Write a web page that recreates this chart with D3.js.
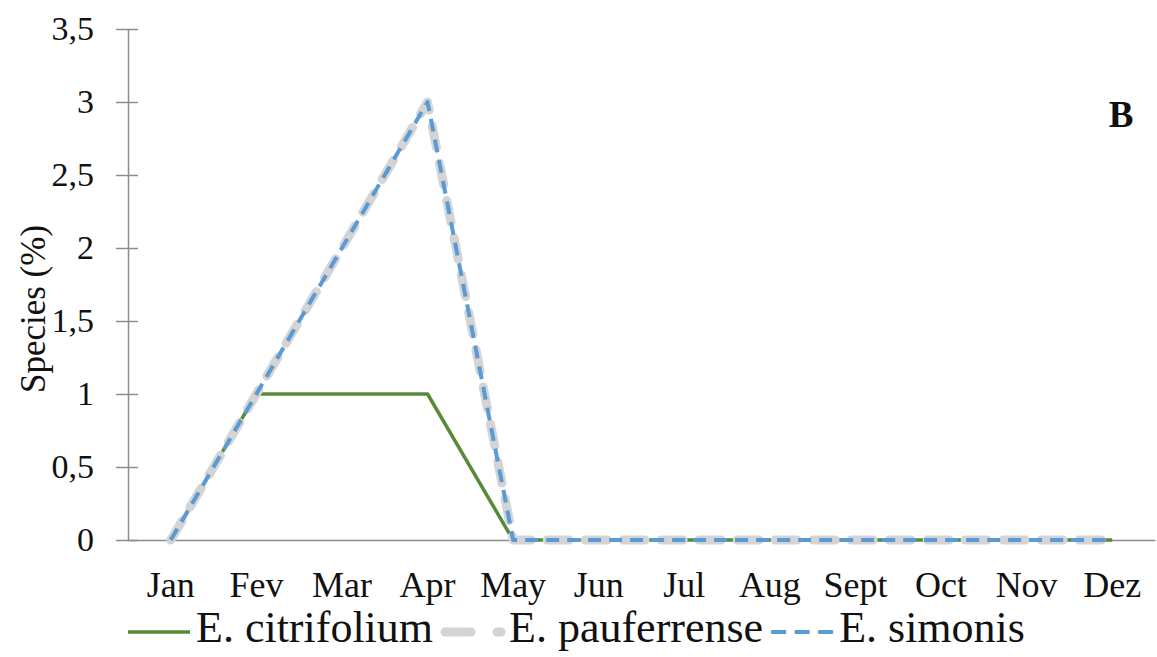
<!DOCTYPE html>
<html>
<head>
<meta charset="utf-8">
<script src="https://cdn.jsdelivr.net/npm/d3@7"></script>
<style>
  html, body { margin: 0; padding: 0; background: #fff; }
  svg { display: block; }
  svg text { font-family: "Times New Roman", "Liberation Serif", Times, "DejaVu Serif", serif !important; fill: #111; }
</style>
</head>
<body>
<svg id="chart" width="1157" height="657"></svg>
<script>
// Monthly share of species (%)
const months = ["Jan", "Fev", "Mar", "Apr", "May", "Jun", "Jul", "Aug", "Sept", "Oct", "Nov", "Dez"];
const citrifolium = [0, 1, 1, 1, 0, 0, 0, 0, 0, 0, 0, 0];
const pauferrense = [0, 1, 2, 3, 0, 0, 0, 0, 0, 0, 0, 0];
const simonis = [0, 1, 2, 3, 0, 0, 0, 0, 0, 0, 0, 0];
const yTicks = [0, 0.5, 1, 1.5, 2, 2.5, 3, 3.5];
const seriesNames = ["E. citrifolium", "E. pauferrense", "E. simonis"];

const svg = d3.select("#chart");
const plotLeft = 128, plotRight = 1155, plotTop = 29, plotBottom = 540;

const x = d3.scaleBand().domain(months).range([plotLeft, plotRight]).paddingInner(0).paddingOuter(0);
const y = d3.scaleLinear().domain([0, 3.5]).range([plotBottom, plotTop]);
const fmt = d => String(d).replace(".", ",");

// y axis: ticks crossing the axis line
const yAxis = svg.append("g")
  .attr("transform", `translate(${plotLeft},0)`)
  .call(d3.axisLeft(y).tickValues(yTicks).tickFormat(fmt).tickSizeInner(12).tickSizeOuter(0).tickPadding(22));
yAxis.attr("font-family", null);
yAxis.select(".domain").attr("stroke", "#8c8c8c").attr("stroke-width", 1.5);
yAxis.selectAll(".tick line").attr("stroke", "#8c8c8c").attr("stroke-width", 1.5).attr("x2", 10).attr("x1", -12);
yAxis.selectAll(".tick text")
  .attr("x", -34)
  .style("font-size", "34px").attr("fill", "#111");

// x axis: baseline only, labels under each month
const xAxis = svg.append("g")
  .attr("transform", `translate(0,${plotBottom})`)
  .call(d3.axisBottom(x).tickSize(0).tickPadding(31));
xAxis.attr("font-family", null);
xAxis.select(".domain").attr("stroke", "#8c8c8c").attr("stroke-width", 1.5);
xAxis.selectAll(".tick text")
  .style("font-size", "36px").attr("fill", "#111");

// y axis title
svg.append("text")
  .attr("transform", `translate(37,${(232 + 386) / 2}) rotate(-90)`)
  .attr("text-anchor", "middle")
  .attr("dominant-baseline", "middle")
  .style("font-size", "35px")
  .text("Species (%)");

// panel letter
svg.append("text")
  .attr("x", 1121).attr("y", 127)
  .attr("text-anchor", "middle")
  .style("font-size", "37px").style("font-weight", "bold")
  .text("B");

const line = d3.line()
  .x((d, i) => x(months[i]) + x.bandwidth() / 2)
  .y(d => y(d));

const styles = [
  { stroke: "#578b37", width: 3.5, dash: null, cap: "butt" },
  { stroke: "#d4d4d4", width: 9, dash: "22,16", cap: "round" },
  { stroke: "#5b9bd5", width: 4, dash: "13,8", cap: "butt" }
];
const seriesData = [citrifolium, pauferrense, simonis];

seriesData.forEach((vals, k) => {
  const s = styles[k];
  svg.append("path")
    .datum(vals)
    .attr("d", line)
    .attr("fill", "none")
    .attr("stroke", s.stroke)
    .attr("stroke-width", s.width)
    .attr("stroke-linecap", s.cap)
    .attr("stroke-linejoin", "round")
    .attr("stroke-dasharray", s.dash);
});

// legend: entries flow left to right, each a line sample then its label
const legendY = 632;
const sampleW = 62, sampleGap = 6, entryGap = 8;
let cursor = 128;
seriesNames.forEach((name, k) => {
  const s = styles[k];
  const g = svg.append("g");
  const x0 = cursor, x1 = cursor + sampleW;
  if (k === 1) {
    g.append("line").attr("x1", x0 + 4).attr("x2", x0 + 30).attr("y1", legendY).attr("y2", legendY)
      .attr("stroke", s.stroke).attr("stroke-width", s.width).attr("stroke-linecap", "round");
    g.append("line").attr("x1", x1 - 6).attr("x2", x1 - 2).attr("y1", legendY).attr("y2", legendY)
      .attr("stroke", s.stroke).attr("stroke-width", s.width).attr("stroke-linecap", "round");
  } else {
    g.append("line").attr("x1", x0).attr("x2", x1).attr("y1", legendY).attr("y2", legendY)
      .attr("stroke", s.stroke).attr("stroke-width", s.width)
      .attr("stroke-dasharray", k === 2 ? "15,8.5" : null);
  }
  const t = g.append("text")
    .attr("x", x1 + sampleGap).attr("y", legendY)
    .attr("dominant-baseline", "middle")
    .style("font-size", "44px")
    .text(name);
  cursor = x1 + sampleGap + t.node().getComputedTextLength() + entryGap;
});
</script>
</body>
</html>
